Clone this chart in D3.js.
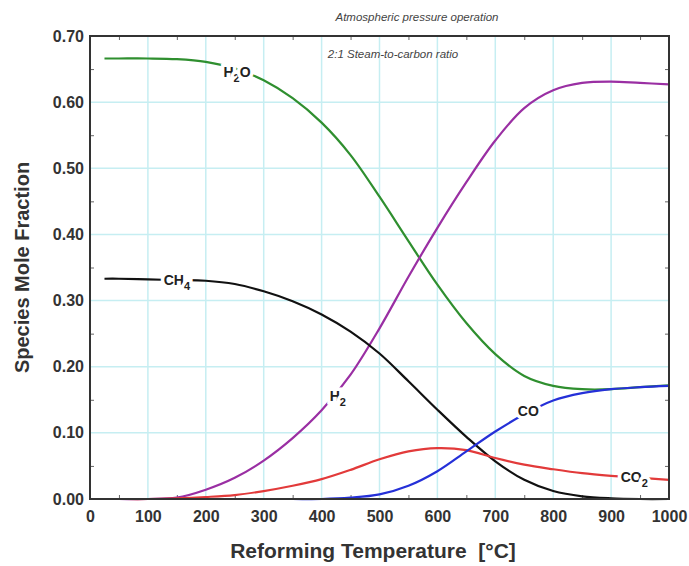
<!DOCTYPE html>
<html>
<head>
<meta charset="utf-8">
<script src="https://cdn.jsdelivr.net/npm/d3@7"></script>
<style>
  body { margin: 0; background: #fff; }
  text { font-family: "Liberation Sans", Arial, sans-serif; }
</style>
</head>
<body>
<div id="chart"></div>
<script>
// temperatures [°C] and species mole fractions
const temps = [25, 50, 100, 150, 200, 250, 300, 350, 400, 450, 500, 550, 600, 650, 700, 750, 800, 850, 900, 950, 1000];
const h2o = [0.666, 0.666, 0.666, 0.665, 0.661, 0.651, 0.633, 0.606, 0.569, 0.520, 0.457, 0.390, 0.324, 0.266, 0.219, 0.186, 0.171, 0.166, 0.166, 0.169, 0.172];
const h2  = [0, 0, 0, 0.002, 0.014, 0.032, 0.058, 0.092, 0.134, 0.188, 0.258, 0.336, 0.410, 0.479, 0.542, 0.591, 0.618, 0.629, 0.631, 0.629, 0.627];
const ch4 = [0.333, 0.333, 0.332, 0.331, 0.330, 0.325, 0.314, 0.299, 0.279, 0.253, 0.220, 0.178, 0.135, 0.094, 0.057, 0.029, 0.012, 0.004, 0.001, 0, 0];
const co2 = [0, 0, 0, 0.001, 0.003, 0.006, 0.012, 0.020, 0.030, 0.044, 0.060, 0.072, 0.077, 0.074, 0.062, 0.052, 0.045, 0.039, 0.035, 0.032, 0.029];
const co  = [0, 0, 0, 0, 0, 0, 0, 0, 0, 0.002, 0.007, 0.020, 0.042, 0.072, 0.102, 0.128, 0.149, 0.160, 0.166, 0.169, 0.171];

const xTicks = [0, 100, 200, 300, 400, 500, 600, 700, 800, 900, 1000];
const yTicks = [0, 0.1, 0.2, 0.3, 0.4, 0.5, 0.6, 0.7];

const series = [
  { name: "H2O", values: h2o, color: "#2f8f2f" },
  { name: "H2",  values: h2,  color: "#9a2fa3" },
  { name: "CH4", values: ch4, color: "#111111" },
  { name: "CO2", values: co2, color: "#e23a3a" },
  { name: "CO",  values: co,  color: "#2530d8" }
];

// curve labels: main text, subscript, trailing text, position in data units
const labels = [
  { main: "H", sub: "2", tail: "O", t: 254, v: 0.645 },
  { main: "CH", sub: "4", tail: "", t: 150, v: 0.331 },
  { main: "H", sub: "2", tail: "", t: 428, v: 0.155 },
  { main: "CO", sub: "", tail: "", t: 757, v: 0.133 },
  { main: "CO", sub: "2", tail: "", t: 940, v: 0.033 }
];

const width = 689, height = 566;
const margin = { top: 36, right: 20, bottom: 67, left: 90 };
const iw = width - margin.left - margin.right;
const ih = height - margin.top - margin.bottom;

const svg = d3.select("#chart").append("svg")
  .attr("width", width)
  .attr("height", height);

const g = svg.append("g").attr("transform", `translate(${margin.left},${margin.top})`);

const x = d3.scaleLinear().domain([0, 1000]).range([0, iw]);
const y = d3.scaleLinear().domain([0, 0.7]).range([ih, 0]);

// grid
g.append("g")
  .selectAll("line")
  .data(xTicks.slice(1, -1)).enter()
  .append("line")
  .attr("x1", d => x(d)).attr("x2", d => x(d))
  .attr("y1", 0).attr("y2", ih)
  .attr("stroke", "#c6eef2").attr("stroke-width", 1.5);
g.append("g")
  .selectAll("line")
  .data(yTicks.slice(1, -1)).enter()
  .append("line")
  .attr("y1", d => y(d)).attr("y2", d => y(d))
  .attr("x1", 0).attr("x2", iw)
  .attr("stroke", "#c6eef2").attr("stroke-width", 1.5);

// minor inward ticks on all four sides
const xMinor = d3.range(50, 1000, 100);
const yMinor = d3.range(0.05, 0.7, 0.1);
g.append("g").call(d3.axisBottom(x).tickValues(xMinor).tickSize(-4).tickFormat(""))
  .attr("transform", `translate(0,${ih})`).call(a => a.select(".domain").remove());
g.append("g").call(d3.axisTop(x).tickValues(xMinor).tickSize(-4).tickFormat(""))
  .call(a => a.select(".domain").remove());
g.append("g").call(d3.axisLeft(y).tickValues(yMinor).tickSize(-4).tickFormat(""))
  .call(a => a.select(".domain").remove());
g.append("g").call(d3.axisRight(y).tickValues(yMinor).tickSize(-4).tickFormat(""))
  .attr("transform", `translate(${iw},0)`).call(a => a.select(".domain").remove());
g.selectAll(".tick line").attr("stroke", "#666");

// tick labels
const xAxis = g.append("g")
  .attr("transform", `translate(0,${ih})`)
  .call(d3.axisBottom(x).tickValues(xTicks).tickSize(0).tickPadding(12).tickFormat(d3.format("d")));
xAxis.select(".domain").remove();
xAxis.selectAll("text").attr("font-size", 16).attr("font-weight", "bold").attr("fill", "#333")
  .attr("font-family", "Liberation Sans, Arial, sans-serif");

const yAxis = g.append("g")
  .call(d3.axisLeft(y).tickValues(yTicks).tickSize(0).tickPadding(6).tickFormat(d3.format(".2f")));
yAxis.select(".domain").remove();
yAxis.selectAll("text").attr("font-size", 16).attr("font-weight", "bold").attr("fill", "#333")
  .attr("font-family", "Liberation Sans, Arial, sans-serif");

// curves
const line = d3.line()
  .x((d, i) => x(temps[i]))
  .y(d => y(d))
  .curve(d3.curveCatmullRom.alpha(0.5));

g.append("g")
  .selectAll("path")
  .data(series).enter()
  .append("path")
  .attr("d", d => line(d.values))
  .attr("fill", "none")
  .attr("stroke", d => d.color)
  .attr("stroke-width", 2.2);

// curve labels with white halo to cut the lines
const lab = g.append("g")
  .selectAll("text")
  .data(labels).enter()
  .append("text")
  .attr("x", d => x(d.t))
  .attr("y", d => y(d.v))
  .attr("dy", "0.35em")
  .attr("text-anchor", "middle")
  .attr("font-size", 14)
  .attr("font-weight", "bold")
  .attr("fill", "#222")
  .attr("stroke", "#fff")
  .attr("stroke-width", 7)
  .attr("paint-order", "stroke");
lab.append("tspan").text(d => d.main);
lab.filter(d => d.sub).append("tspan").text(d => d.sub).attr("font-size", 11).attr("dy", 5);
lab.filter(d => d.tail).append("tspan").text(d => d.tail).attr("dy", -5);

// frame
g.append("rect")
  .attr("width", iw).attr("height", ih)
  .attr("fill", "none").attr("stroke", "#333").attr("stroke-width", 2);

// annotations
svg.append("text")
  .attr("x", 417).attr("y", 21)
  .attr("text-anchor", "middle")
  .attr("font-size", 11.5).attr("font-style", "italic").attr("fill", "#444")
  .text("Atmospheric pressure operation");
g.append("text")
  .attr("x", 393 - margin.left).attr("y", 58 - margin.top)
  .attr("text-anchor", "middle")
  .attr("font-size", 11.5).attr("font-style", "italic").attr("fill", "#444")
  .text("2:1 Steam-to-carbon ratio");

// axis titles
svg.append("text")
  .attr("x", 373).attr("y", 558)
  .attr("text-anchor", "middle")
  .attr("font-size", 21).attr("font-weight", "bold").attr("fill", "#333")
  .attr("xml:space", "preserve")
  .text("Reforming Temperature  [°C]");
svg.append("text")
  .attr("transform", `translate(29,${margin.top + ih / 2}) rotate(-90)`)
  .attr("text-anchor", "middle")
  .attr("font-size", 20).attr("font-weight", "bold").attr("fill", "#333")
  .text("Species Mole Fraction");
</script>
</body>
</html>
